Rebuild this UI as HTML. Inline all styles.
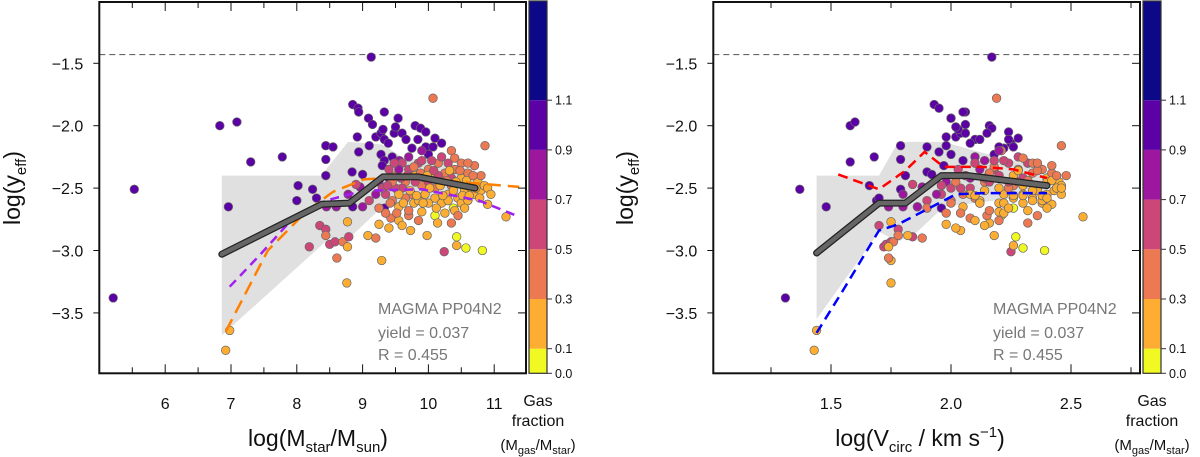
<!DOCTYPE html>
<html><head><meta charset="utf-8"><style>
html,body{margin:0;padding:0;background:#fff;}
svg{display:block;font-family:"Liberation Sans",Arial,sans-serif;}
</style></head><body>
<svg id="fig" width="1200" height="457" viewBox="0 0 1200 457" xmlns="http://www.w3.org/2000/svg"></svg>
<script>
// ---- data ----
const mstar=[5.21,5.53,6.83,7.09,6.96,7.30,7.78,8.02,8.00,8.24,8.30,8.44,8.55,8.44,8.44,9.13,8.85,8.93,8.94,9.09,9.15,9.33,9.54,9.80,9.88,9.96,10.10,10.20,8.92,8.94,9.10,9.20,9.28,9.31,9.33,9.39,9.48,9.50,9.60,9.66,9.75,9.84,9.96,10.00,10.07,9.28,9.33,9.45,9.56,9.30,8.84,9.00,8.96,9.33,8.85,8.19,8.35,8.44,8.50,8.58,8.70,8.79,10.07,10.24,10.35,10.86,11.18,10.90,10.82,10.57,10.43,10.43,10.38,10.10,10.14,9.98,9.73,9.29,8.76,8.61,8.77,8.77,8.44,6.98,6.92,9.08,9.20,9.25,9.40,9.43,9.55,9.70,9.90,9.78,9.40,9.50,9.60,9.65,9.70,9.75,9.80,9.85,9.90,9.95,10.00,10.05,10.10,10.15,10.20,10.25,10.30,10.35,10.40,10.45,10.50,10.55,10.60,10.65,10.70,10.75,10.80,10.85,10.90,9.35,9.45,9.55,9.65,9.70,9.85,10.00,10.10,10.20,10.30,10.40,10.50,10.60,9.20,9.25,9.40,9.55,9.70,9.90,10.05,10.20,10.30,10.50,10.70,9.60,9.80,10.00,10.15,10.35,9.10,9.30,9.50,10.80,10.95,9.35,9.60,10.25,10.45,9.00,8.90,8.78,8.60,8.45,
9.45,9.55,9.62,9.68,9.72,9.78,9.82,9.88,9.92,9.98,10.02,10.08,10.12,10.18,10.22,10.28,10.32,10.38,10.42,10.48,10.52,10.58,10.62,10.68,10.72,10.78,9.42,9.52,9.38,9.48,9.58,9.90,10.40,10.60,9.25,10.35,9.85,10.55];
const vcirc=[1.31,1.37,1.58,1.60,1.48,1.58,1.68,1.66,1.69,1.79,1.70,1.79,1.90,1.79,1.81,2.17,1.93,1.95,2.06,2.00,2.06,2.05,2.00,2.16,2.17,2.24,2.28,2.25,1.98,1.95,1.98,2.02,2.04,2.03,2.10,2.08,2.06,2.02,2.15,2.12,2.22,2.24,2.26,2.18,2.20,2.00,2.05,2.10,2.14,1.97,1.90,1.92,1.88,1.96,1.86,1.72,1.70,1.78,1.73,1.75,1.76,1.84,2.19,2.25,2.21,2.46,2.55,2.42,2.39,2.30,2.27,2.26,2.26,2.21,2.16,2.18,2.04,1.75,1.75,1.74,1.74,1.75,1.78,1.44,1.43,1.82,1.88,1.98,2.02,2.08,2.10,2.15,2.20,2.12,2.03,2.06,2.10,2.14,2.18,2.05,2.20,2.24,2.26,2.22,2.28,2.30,2.24,2.32,2.28,2.34,2.30,2.36,2.38,2.34,2.40,2.36,2.42,2.44,2.40,2.45,2.43,2.46,2.44,1.96,2.00,2.05,2.10,2.16,2.12,2.20,2.26,2.30,2.34,2.32,2.38,2.38,1.94,1.98,2.08,2.12,2.10,2.20,2.22,2.28,2.32,2.34,2.42,2.08,2.16,2.24,2.20,2.30,1.90,2.00,2.04,2.48,2.46,1.98,2.14,2.22,2.36,1.86,1.84,1.80,1.80,1.74,
2.02,2.08,2.12,2.06,2.14,2.18,2.10,2.16,2.22,2.26,2.20,2.28,2.24,2.30,2.26,2.32,2.28,2.34,2.40,2.36,2.30,2.42,2.38,2.44,2.46,2.40,2.00,2.04,1.96,2.10,2.14,2.18,2.30,2.36,1.90,2.32,2.20,2.40];
const yeff=[-3.38,-2.51,-2.00,-1.97,-2.65,-2.29,-2.25,-2.48,-2.60,-2.51,-2.58,-2.16,-2.17,-2.27,-2.40,-1.45,-1.83,-1.86,-1.89,-1.94,-1.99,-1.89,-1.94,-2.00,-2.02,-2.05,-2.10,-2.14,-2.09,-2.21,-2.16,-2.09,-2.06,-2.03,-2.11,-2.14,-2.06,-2.01,-2.06,-2.11,-2.18,-2.11,-2.17,-2.23,-2.17,-2.23,-2.28,-2.25,-2.28,-2.32,-2.37,-2.39,-2.49,-2.66,-2.65,-2.97,-2.80,-2.83,-2.95,-2.93,-2.93,-2.89,-1.78,-3.01,-2.20,-2.16,-2.73,-2.63,-3.00,-2.98,-2.89,-2.96,-2.66,-2.72,-2.78,-2.88,-2.84,-3.08,-3.26,-3.06,-2.97,-2.77,-2.88,-3.64,-3.80,-2.88,-2.90,-2.79,-2.82,-2.74,-2.76,-2.72,-2.69,-2.62,-2.35,-2.40,-2.30,-2.45,-2.35,-2.55,-2.40,-2.30,-2.48,-2.55,-2.35,-2.42,-2.50,-2.30,-2.45,-2.38,-2.55,-2.48,-2.35,-2.58,-2.42,-2.52,-2.38,-2.50,-2.55,-2.45,-2.52,-2.48,-2.50,-2.55,-2.60,-2.65,-2.58,-2.68,-2.60,-2.62,-2.58,-2.62,-2.60,-2.68,-2.62,-2.60,-2.55,-2.45,-2.42,-2.35,-2.25,-2.20,-2.28,-2.25,-2.30,-2.30,-2.32,-2.50,-2.45,-2.45,-2.40,-2.42,-2.60,-2.50,-2.50,-2.40,-2.55,-2.70,-2.80,-2.70,-2.72,-2.65,-2.47,-2.55,-2.65,-2.65,
-2.45,-2.55,-2.62,-2.40,-2.52,-2.33,-2.56,-2.38,-2.62,-2.40,-2.50,-2.36,-2.66,-2.48,-2.56,-2.44,-2.36,-2.52,-2.45,-2.36,-2.56,-2.44,-2.56,-2.40,-2.50,-2.58,-2.62,-2.70,-2.48,-2.30,-2.42,-2.28,-2.26,-2.30,-2.66,-2.78,-2.76,-2.66];
const gas=[1,1,1,1,1,1,1,1,1,1,1,1,1,1,1,1,1,1,1,1,1,1,1,1,1,1,1,1,1,1,1,1,1,1,1,1,1,1,1,1,1,1,1,0.95,0.95,1,1,0.95,0.8,1,1,1,0.8,1,1,0.6,0.6,0.6,0.6,0.6,0.4,0.6,0.45,0.55,0.4,0.4,0.2,0.2,0.05,0.05,0.05,0.2,0.05,0.05,0.2,0.2,0.2,0.2,0.2,0.4,0.2,0.2,0.4,0.2,0.2,0.2,0.4,0.2,0.2,0.4,0.2,0.4,0.2,0.2,0.6,0.4,0.6,0.4,0.6,0.4,0.2,0.6,0.4,0.2,0.4,0.2,0.4,0.4,0.2,0.4,0.2,0.4,0.4,0.2,0.2,0.2,0.4,0.2,0.2,0.2,0.2,0.2,0.2,0.6,0.4,0.2,0.4,0.4,0.2,0.2,0.2,0.2,0.2,0.2,0.2,0.2,0.8,0.8,0.8,0.8,0.8,0.8,0.6,0.6,0.6,0.4,0.4,0.6,0.6,0.6,0.6,0.6,0.6,0.6,0.6,0.4,0.2,0.4,0.2,0.2,0.4,0.8,0.6,0.8,0.8,0.8,
0.4,0.2,0.2,0.6,0.2,0.4,0.2,0.4,0.2,0.2,0.2,0.6,0.2,0.2,0.2,0.4,0.2,0.2,0.2,0.4,0.2,0.2,0.2,0.4,0.2,0.2,0.4,0.4,0.6,0.6,0.6,0.6,0.4,0.4,0.4,0.4,0.4,0.2];
// median & fits, left panel
const medMx=[6.86,8.38,8.80,9.31,9.85,10.71];
const medMy=[-3.03,-2.63,-2.62,-2.41,-2.41,-2.50];
const bandMx=[6.86,8.37,8.78,9.30,9.60,10.70,10.70,9.30,8.80,8.50,6.86];
const bandMy=[-2.40,-2.40,-2.13,-2.15,-2.25,-2.35,-2.60,-2.65,-2.90,-2.90,-3.68];
const fitOrX=[6.92,7.56,8.14,8.55,9.02,9.60,10.47,11.38];
const fitOrY=[-3.65,-3.00,-2.69,-2.53,-2.43,-2.41,-2.45,-2.49];
const fitPuX=[6.98,7.45,7.91,8.44,9.02,9.90,10.77,11.38];
const fitPuY=[-3.29,-3.03,-2.76,-2.60,-2.52,-2.51,-2.60,-2.73];
// right panel
const medVx=[1.44,1.70,1.81,1.96,2.07,2.40];
const medVy=[-3.02,-2.62,-2.62,-2.40,-2.40,-2.48];
const bandVx=[1.44,1.70,1.78,1.97,2.10,2.40,2.40,1.97,1.86,1.78,1.70,1.44];
const bandVy=[-2.40,-2.40,-2.13,-2.13,-2.20,-2.35,-2.55,-2.65,-2.85,-2.93,-2.85,-3.55];
const fitRedX=[1.53,1.70,1.81,1.89,1.97,2.13,2.26,2.40];
const fitRedY=[-2.39,-2.51,-2.36,-2.21,-2.33,-2.33,-2.35,-2.42];
const fitBluX=[1.44,1.55,1.70,1.78,1.86,1.97,2.02,2.13,2.40];
const fitBluY=[-3.66,-3.32,-2.84,-2.79,-2.71,-2.60,-2.55,-2.54,-2.54];
const yTicks=[-1.5,-2.0,-2.5,-3.0,-3.5];
const yTickLabels=["\u22121.5","\u22122.0","\u22122.5","\u22123.0","\u22123.5"];
const mTicks=[6,7,8,9,10,11];
const vTicks=[1.5,2.0,2.5];
const vTickLabels=["1.5","2.0","2.5"];
const cbTicks=[0.0,0.1,0.3,0.5,0.7,0.9,1.1];
const cbLabels=["0.0","0.1","0.3","0.5","0.7","0.9","1.1"];
const cbBins=[0,0.1,0.3,0.5,0.7,0.9,1.1,1.3];
const cbColors=["#f0f921","#fdae32","#ed7953","#cc4778","#9c179e","#5c01a6","#0d0887"];
const yieldLine=-1.43;

const NS="http://www.w3.org/2000/svg";
const svg=document.getElementById('fig');
function mk(tag,attrs,parent){const e=document.createElementNS(NS,tag);for(const k in attrs)e.setAttribute(k,attrs[k]);(parent||svg).appendChild(e);return e;}
function colorFor(g){for(let i=0;i<cbColors.length;i++){if(g<cbBins[i+1])return cbColors[i];}return cbColors[cbColors.length-1];}
const TOP=2,BOT=373.3;
function Y(v){return 125.7+(-2-v)*124.8;}
function cbY(v){ if(v<=0.1) return 373.3-v*246; return 348.7-(v-0.1)*248.5; }

function panel(o){
  const g=mk('g',{});
  
  
  const X=o.X;
  const clip=mk('clipPath',{id:o.name+'-clip'},g);
  mk('rect',{x:o.x0,y:TOP,width:o.x1-o.x0,height:BOT-TOP},clip);
  const inner=mk('g',{'clip-path':'url(#'+o.name+'-clip)'},g);
  let pts=o.bx.map((v,i)=>X(v).toFixed(1)+','+Y(o.by[i]).toFixed(1)).join(' ');
  const band=mk('polygon',{points:pts,fill:'#e0e0e0',stroke:'none'},inner);
  
  
  const yl=mk('line',{x1:o.x0,x2:o.x1,y1:Y(yieldLine),y2:Y(yieldLine),stroke:'#666','stroke-width':1.2,'stroke-dasharray':'6,4'},inner);
  
  
  for(let i=0;i<yeff.length;i++){
    const c=mk('circle',{cx:X(o.xs[i]).toFixed(1),cy:Y(yeff[i]).toFixed(1),r:4.3,fill:colorFor(gas[i]),stroke:'#666','stroke-width':0.7},inner);
    
    
  }
  o.fits.forEach(f=>{
    const p=mk('polyline',{points:f.x.map((v,i)=>X(v).toFixed(1)+','+Y(f.y[i]).toFixed(1)).join(' '),fill:'none',stroke:f.c,'stroke-width':2.5,'stroke-dasharray':f.d},inner);
    
    
  });
  const mp=o.mx.map((v,i)=>X(v).toFixed(1)+','+Y(o.my[i]).toFixed(1)).join(' ');
  mk('polyline',{points:mp,fill:'none',stroke:'#222','stroke-width':7,'stroke-linejoin':'round','stroke-linecap':'round'},inner);
  const m=mk('polyline',{points:mp,fill:'none',stroke:'#666','stroke-width':4.5,'stroke-linejoin':'round','stroke-linecap':'round'},inner);
  
  
  const fr=mk('rect',{x:o.x0,y:TOP,width:o.x1-o.x0,height:BOT-TOP,fill:'none',stroke:'#111','stroke-width':2},g);
  
  
  o.minor.forEach(v=>{const xx=X(v);const major=o.xt.some(t=>Math.abs(t-v)<1e-6);const L=major?9:6;
    mk('line',{x1:xx,x2:xx,y1:BOT,y2:BOT-L,stroke:'#111','stroke-width':1},g);
    mk('line',{x1:xx,x2:xx,y1:TOP,y2:TOP+L,stroke:'#111','stroke-width':1},g);});
  o.xt.forEach((v,i)=>{const t=mk('text',{x:X(v),y:409,'font-size':16,'text-anchor':'middle',fill:'#111'},g);t.textContent=o.xl[i];
    });
  yTicks.forEach((v,i)=>{const yy=Y(v);
    mk('line',{x1:o.x0-6,x2:o.x0,y1:yy,y2:yy,stroke:'#111','stroke-width':1},g);
    mk('line',{x1:o.x1-8,x2:o.x1,y1:yy,y2:yy,stroke:'#111','stroke-width':1},g);
    const t=mk('text',{x:o.x0-16,y:yy+6,'font-size':16,'text-anchor':'end',fill:'#111'},g);t.textContent=yTickLabels[i];
    });
  const yt=mk('text',{transform:`translate(${o.ytx},188) rotate(-90)`,'font-size':23,'text-anchor':'middle',fill:'#111'},g);
  yt.innerHTML='log(y<tspan font-size="15" dy="6">eff</tspan><tspan dy="-6">)</tspan>';
  
  const xt=mk('text',{x:o.xtx,y:446,'font-size':23,'text-anchor':'middle',fill:'#111'},g);
  xt.innerHTML=o.xtitle;
  
  const ann=["MAGMA PP04N2","yield = 0.037","R = 0.455"];const ay=[314,338,360];
  ann.forEach((s,i)=>{const t=mk('text',{x:o.annx,y:ay[i],'font-size':16,fill:'#777'},g);t.textContent=s;
    });
  const cb=mk('g',{},g);
  
  for(let i=0;i<cbColors.length;i++){
    const y1=i==cbColors.length-1?1:cbY(cbBins[i+1]);const y2=cbY(cbBins[i]);
    mk('rect',{x:o.cbx,y:y1,width:18,height:y2-y1,fill:cbColors[i]},cb);
  }
  mk('rect',{x:o.cbx,y:1,width:18,height:372.3,fill:'none',stroke:'#333','stroke-width':1.2},cb);
  cbTicks.forEach((v,i)=>{const yy=cbY(v);mk('line',{x1:o.cbx+18,x2:o.cbx+23,y1:yy,y2:yy,stroke:'#333','stroke-width':1},cb);
    const t=mk('text',{x:o.cbx+26,y:yy+4.5,'font-size':12.5,fill:'#111'},cb);t.textContent=cbLabels[i];});
  const cx=o.cbx+9;
  const t1=mk('text',{x:cx,y:406,'font-size':16,'text-anchor':'middle',fill:'#111'},cb);t1.textContent='Gas';
  const t2=mk('text',{x:cx,y:426,'font-size':16,'text-anchor':'middle',fill:'#111'},cb);t2.textContent='fraction';
  const t3=mk('text',{x:cx,y:450,'font-size':15,'text-anchor':'middle',fill:'#111'},cb);
  t3.innerHTML='(M<tspan font-size="11" dy="4">gas</tspan><tspan dy="-4">/M</tspan><tspan font-size="11" dy="4">star</tspan><tspan dy="-4">)</tspan>';
}
const mMinor=[5.5,6,6.5,7,7.5,8,8.5,9,9.5,10,10.5,11];
panel({name:'mass-panel',x0:99.3,x1:526,X:v=>231+(v-7)*65.8,xs:mstar,bx:bandMx,by:bandMy,mx:medMx,my:medMy,
  fits:[{x:fitOrX,y:fitOrY,c:'#ff8000',d:'14,7',n:'orange-dashed-fit'},{x:fitPuX,y:fitPuY,c:'#a020f0',d:'9,6',n:'purple-dashed-fit'}],
  xt:mTicks,xl:mTicks.map(String),minor:mMinor,ytx:20,xtx:318,annx:378,cbx:529,
  xtitle:'log(M<tspan font-size="15" dy="6">star</tspan><tspan dy="-6">/M</tspan><tspan font-size="15" dy="6">sun</tspan><tspan dy="-6">)</tspan>'});
panel({name:'velocity-panel',x0:713.3,x1:1140,X:v=>831+(v-1.5)*240,xs:vcirc,bx:bandVx,by:bandVy,mx:medVx,my:medVy,
  fits:[{x:fitRedX,y:fitRedY,c:'#ff0000',d:'10,6',n:'red-dashed-fit'},{x:fitBluX,y:fitBluY,c:'#0000ff',d:'10,6',n:'blue-dashed-fit'}],
  xt:vTicks,xl:vTickLabels,minor:[1.25,1.5,1.75,2.0,2.25,2.5,2.75],ytx:633,xtx:920,annx:993,cbx:1143,
  xtitle:'log(V<tspan font-size="15" dy="6">circ</tspan><tspan dy="-6"> / km s</tspan><tspan font-size="15" dy="-9">\u22121</tspan><tspan dy="9">)</tspan>'});
</script>
</body></html>
